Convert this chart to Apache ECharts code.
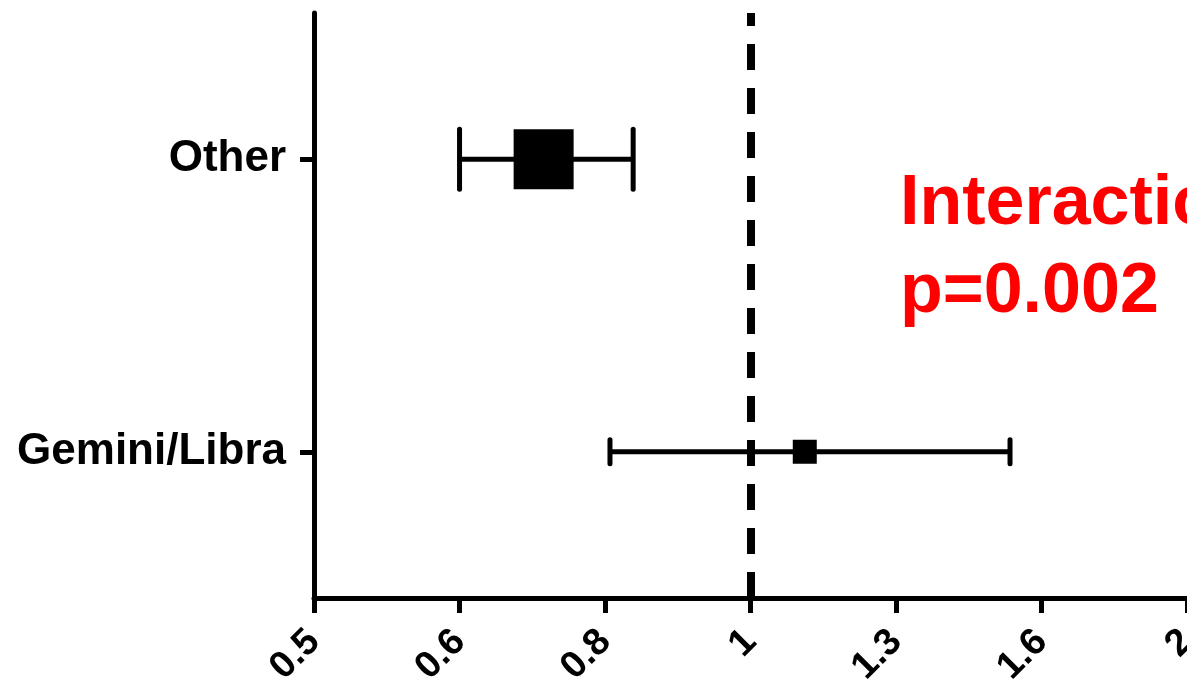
<!DOCTYPE html>
<html>
<head>
<meta charset="utf-8">
<script src="https://cdn.jsdelivr.net/npm/echarts@6/dist/echarts.min.js"></script>
<style>
  html, body { margin: 0; padding: 0; background: #fff; overflow: hidden; }
  #chart { width: 1187px; height: 687px; }
</style>
</head>
<body>
<div id="chart"></div>
<script>
// Subgroups, bottom to top
const categories = ['Gemini/Libra', 'Other'];
// Point estimate and 95% confidence interval per subgroup
const hazardRatio = [1.09, 0.72];
const lowerCI = [0.80, 0.63];
const upperCI = [1.51, 0.83];
// Tick labels on the ratio axis (one every third of a doubling, 0.5 to 2)
const tickLabels = ['0.5', '0.6', '0.8', '1', '1.3', '1.6', '2'];
const annotation = ['Interaction', 'p=0.002'];

// Marker box edge (px) per subgroup
const markerSize = [24, 60];
const FONT = '"Liberation Sans", Arial, Helvetica, sans-serif';

// Ratio -> axis units: 3 units per doubling, so ticks fall on integers
const toAxis = v => 3 * Math.log2(v);

const seriesData = categories.map((c, i) => [
  toAxis(lowerCI[i]), toAxis(upperCI[i]), toAxis(hazardRatio[i]), i
]);

function renderItem(params, api) {
  const row = api.value(3);
  const lo = api.coord([api.value(0), row]);
  const hi = api.coord([api.value(1), row]);
  const mid = api.coord([api.value(2), row]);
  const s = markerSize[params.dataIndex];
  const cap = { stroke: '#000', lineWidth: 5, lineCap: 'round' };
  return {
    type: 'group',
    children: [
      { type: 'line', shape: { x1: lo[0], y1: lo[1], x2: hi[0], y2: hi[1] },
        style: { stroke: '#000', lineWidth: 5 } },
      { type: 'line', shape: { x1: lo[0], y1: lo[1] - s / 2, x2: lo[0], y2: lo[1] + s / 2 }, style: cap },
      { type: 'line', shape: { x1: hi[0], y1: hi[1] - s / 2, x2: hi[0], y2: hi[1] + s / 2 }, style: cap },
      { type: 'rect', shape: { x: mid[0] - s / 2, y: mid[1] - s / 2, width: s, height: s },
        style: { fill: '#000' } }
    ]
  };
}

const chart = echarts.init(document.getElementById('chart'), null, { renderer: 'canvas' });

chart.setOption({
  animation: false,
  backgroundColor: '#fff',
  grid: {
    left: 314, top: 13, width: 873, height: 585,
    containLabel: false,
    outerBoundsMode: 'none'
  },
  xAxis: {
    type: 'value',
    min: -3,
    max: 3,
    interval: 1,
    splitLine: { show: false },
    axisLine: { show: true, lineStyle: { color: '#000', width: 5 } },
    axisTick: { show: true, length: 15, lineStyle: { color: '#000', width: 5 } },
    axisLabel: {
      formatter: v => tickLabels[Math.round(v + 3)],
      rotate: 45,
      margin: 38,
      color: '#000',
      fontSize: 38,
      fontWeight: 'bold',
      fontFamily: FONT
    }
  },
  yAxis: {
    type: 'category',
    data: categories,
    axisLine: { show: true, onZero: false, lineStyle: { color: '#000', width: 5 } },
    axisTick: { show: true, alignWithLabel: true, length: 14, lineStyle: { color: '#000', width: 5 } },
    axisLabel: {
      margin: 28,
      padding: [6, 0, 0, 0],
      color: '#000',
      fontSize: 44,
      fontWeight: 'bold',
      fontFamily: FONT
    },
    splitLine: { show: false }
  },
  series: [{
    type: 'custom',
    renderItem: renderItem,
    data: seriesData,
    z: 3,
    markLine: {
      silent: true,
      symbol: ['none', 'none'],
      label: { show: false },
      lineStyle: { color: '#000', width: 8, type: [26, 18] },
      data: [{ xAxis: toAxis(1) }],
      z: 2
    }
  }],
  graphic: [{
    type: 'text',
    left: 900,
    top: 161,
    style: {
      text: annotation.join('\n'),
      fill: '#ff0000',
      fontSize: 70,
      lineHeight: 88,
      fontWeight: 'bold',
      fontFamily: FONT
    }
  }]
});
</script>
</body>
</html>
